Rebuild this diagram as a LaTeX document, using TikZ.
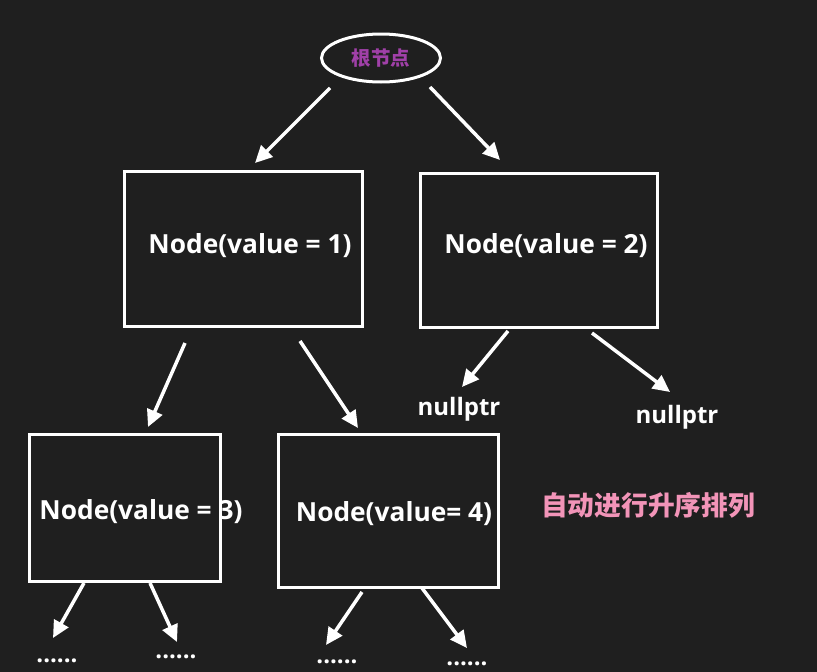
\documentclass[tikz,border=0pt]{standalone}
\usepackage{fontspec}
\setmainfont{Open Sans}
\newfontfamily\cjk{Noto Sans CJK SC}
\usetikzlibrary{shapes.geometric,arrows.meta}
\definecolor{bg}{HTML}{1F1F1F}
\definecolor{rootpurple}{HTML}{A040A8}
\definecolor{pinktext}{HTML}{F294B8}
\tikzset{
  box/.style={draw=white,line width=3pt,fill=none,inner sep=0pt,outer sep=0pt,rectangle},
  lbl/.style={text=white,font=\bfseries\fontsize{26.3}{30}\selectfont,inner sep=0pt},
  nul/.style={text=white,font=\bfseries\fontsize{24}{28}\selectfont,inner sep=0pt},
  dots/.style={text=white,font=\bfseries\fontsize{24}{28}\selectfont,inner sep=0pt},
  arr/.style={draw=white,line width=3.5pt,-{Triangle[length=17pt,width=16pt]}}
}
\begin{document}
\begin{tikzpicture}[x=1pt,y=-1pt]
\fill[bg] (0,0) rectangle (817,672);
\useasboundingbox (0,0) rectangle (817,672);
% root
\node[ellipse,draw=white,line width=3pt,minimum width=119pt,minimum height=48pt,inner sep=0pt,
  text=rootpurple,font=\cjk\bfseries\fontsize{19.5}{22}\selectfont] (root) at (381,58) {根节点};
% labels
\node[lbl] (t1) at (250,246) {Node(value = 1)};
\node[lbl] (t2) at (546,246) {Node(value = 2)};
\node[lbl] (t3) at (141,512) {Node(value = 3)};
\node[lbl] (t4) at (394,514) {Node(value= 4)};
% boxes (drawn over the labels)
\node[box,minimum width=238pt,minimum height=155pt] (b1) at (243,248.5) {};
\node[box,minimum width=237pt,minimum height=154pt] (b2) at (538.5,250) {};
\node[box,minimum width=191pt,minimum height=147pt] (b3) at (124.5,507.5) {};
\node[box,minimum width=220pt,minimum height=153pt] (b4) at (388,510.5) {};
% other texts
\node[nul] (n1) at (459,409) {nullptr};
\node[nul] (n2) at (677,417) {nullptr};
\node[text=pinktext,font=\cjk\bfseries\fontsize{26.7}{30}\selectfont,inner sep=0pt] (note) at (648,505) {自动进行升序排列};
\node[dots] (d1) at (57,661) {......};
\node[dots] (d2) at (176,657) {......};
\node[dots] (d3) at (337,662) {......};
\node[dots] (d4) at (467,664) {......};
% arrow endpoints
\coordinate (r1s) at (330,88);  \coordinate (r1e) at (255,163);
\coordinate (r2s) at (430,87);  \coordinate (r2e) at (500,160);
\coordinate (a1s) at (185,343); \coordinate (a1e) at (148,427);
\coordinate (a2s) at (300,341); \coordinate (a2e) at (358,428);
\coordinate (a3s) at (508,331); \coordinate (a3e) at (462,387);
\coordinate (a4s) at (592,333); \coordinate (a4e) at (670,392);
\coordinate (a5s) at (84,583);  \coordinate (a5e) at (53,638);
\coordinate (a6s) at (150,583); \coordinate (a6e) at (177,642);
\coordinate (a7s) at (362,592); \coordinate (a7e) at (326,645);
\coordinate (a8s) at (422,588); \coordinate (a8e) at (467,648);
\foreach \s/\e in {r1s/r1e,r2s/r2e,a1s/a1e,a2s/a2e,a3s/a3e,a4s/a4e,a5s/a5e,a6s/a6e,a7s/a7e,a8s/a8e}
  \draw[arr] (\s) -- (\e);
\end{tikzpicture}
\end{document}
